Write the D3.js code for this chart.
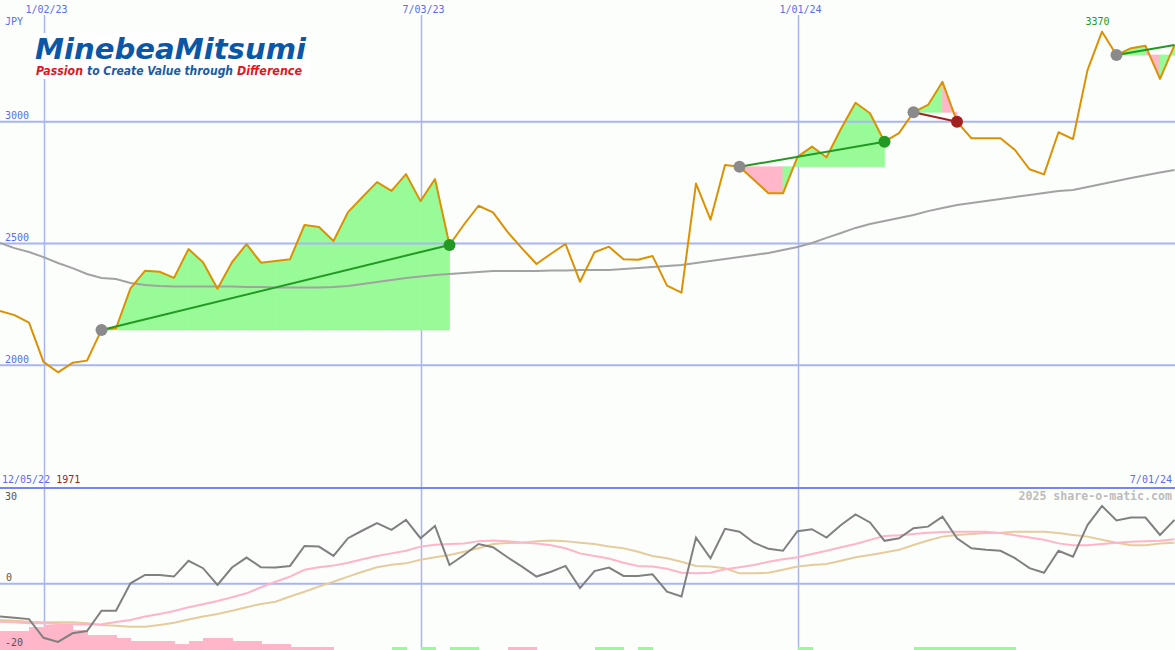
<!DOCTYPE html>
<html><head><meta charset="utf-8">
<script src="https://cdn.jsdelivr.net/npm/d3@7"></script>
<style>html,body{margin:0;padding:0;background:#fcfefc;} svg{display:block;}</style>
</head><body><svg id="c" width="1175" height="650"></svg>
<script>
// ---------- data ----------
const startDate = "2022-12-12";   // first weekly point
const endDate = "2024-07-01";
const price = [2223,2206,2175,2014,1971,2010,2019,2145,2152,2316,
  2388,2384,2359,2477,2423,2314,2423,2497,2421,2428,
  2435,2576,2568,2510,2629,2691,2752,2716,2785,2674,
  2765,2494,2578,2655,2628,2548,2480,2416,2458,2498,
  2343,2464,2487,2435,2433,2449,2327,2298,2746,2598,
  2822,2815,2761,2706,2706,2856,2898,2854,2971,3078,
  3035,2918,2953,3039,3069,3164,3000,2932,2932,2932,
  2884,2805,2784,2957,2929,3212,3370,3274,3302,3312,
  3176,3315];
const movingAvg = [2502,2481,2465,2444,2420,2399,2375,2358,2354,2338,
  2330,2325,2323,2323,2323,2323,2323,2321,2321,2319,
  2319,2319,2319,2321,2325,2334,2342,2350,2358,2364,
  2371,2375,2379,2383,2387,2387,2387,2387,2389,2389,
  2391,2391,2391,2395,2399,2403,2408,2412,2420,2428,
  2436,2445,2453,2461,2473,2486,2502,2523,2543,2564,
  2580,2592,2605,2617,2633,2646,2658,2666,2675,2683,
  2691,2699,2707,2716,2720,2732,2744,2757,2769,2780,
  2792,2802];
const oscGray = [-10.2,-10.6,-11.0,-16.8,-18.1,-15.4,-14.7,-8.4,-8.4,0.1,
  2.7,2.7,2.2,7.1,4.8,-0.4,5.0,8.1,5.1,5.0,
  5.5,11.7,11.5,8.6,14.1,16.5,18.8,16.7,19.8,14.1,
  17.9,5.8,8.9,12.3,11.3,8.2,5.3,2.2,3.7,5.5,
  -1.4,3.9,5.0,2.4,2.4,2.9,-2.5,-4.0,14.3,7.9,
  17.0,16.1,12.7,10.8,10.2,16.3,16.9,14.3,18.2,21.5,
  19.0,13.3,14.1,17.2,17.7,20.8,14.1,11.0,10.5,10.2,
  7.9,4.8,3.4,10.2,8.4,18.2,24.1,19.6,20.5,20.5,
  15.1,19.8];
const oscPink = [-11.8,-12.0,-12.3,-12.3,-12.5,-12.6,-12.7,-12.6,-11.9,-11.3,
  -10.2,-9.4,-8.5,-7.3,-6.4,-5.4,-4.2,-3.0,-1.1,0.6,
  2.2,4.3,5.1,5.6,6.5,7.6,8.6,9.4,10.2,11.5,
  12.1,12.3,12.5,13.2,13.4,13.2,12.8,12.5,11.9,11.0,
  9.4,8.6,7.8,6.5,5.5,5.3,4.6,3.4,3.2,3.4,
  4.5,5.1,5.8,6.8,7.6,8.2,9.2,10.2,11.3,12.3,
  13.6,14.8,15.0,15.4,15.8,16.0,16.1,16.1,16.1,15.7,
  15.0,14.3,13.6,12.5,11.9,11.9,12.3,12.7,13.0,13.2,
  13.3,13.8];
const oscTan = [-11.3,-11.5,-11.8,-12.0,-12.0,-12.0,-12.3,-12.8,-13.1,-13.4,
  -13.4,-12.8,-12.1,-11.1,-10.2,-9.4,-8.4,-7.3,-6.3,-5.6,
  -4.0,-2.5,-0.9,0.6,2.2,3.7,5.1,5.9,6.3,7.4,
  8.2,8.9,9.9,11.0,12.3,12.6,12.7,13.2,13.4,13.2,
  12.7,12.3,11.5,11.0,9.9,8.6,7.9,6.8,5.5,5.3,
  4.8,3.2,3.2,3.4,4.3,5.3,5.8,6.1,7.1,8.2,
  8.9,9.7,10.5,12.0,13.4,14.6,15.1,15.4,15.7,15.8,
  16.1,16.1,16.1,15.7,15.1,14.6,13.6,12.7,11.9,11.9,
  12.5,12.7];
const signalBars = [-6.0,-6.0,-7.0,-7.9,-7.9,-6.2,-4.7,-4.7,-3.6,-2.8,
  -2.8,-2.8,-1.9,-2.8,-3.7,-3.7,-2.8,-2.8,-1.9,-1.9,
  -1.0,-1.0,-1.0,0,0,0,0,1.0,0,1.0,
  0,1.0,1.0,0,0,-1.0,-1.0,0,0,0,
  0,1.0,1.0,0,1.0,0,0,0,0,0,
  0,0,0,0,0,1.0,0,0,0,0,
  0,0,0,1.0,1.0,1.0,1.0,1.0,1.0,1.0,
  0,0,0,0,0,0,0,0,0,0,
  0];
const trendStart = [7, 51, 63, 77];
const trendEnd = [31, 61, 66, 81];
const trendOpen = [false, false, false, true];
const priceTicks = [3000, 2500, 2000];
const oscTicks = [30, 0, -20];
const dateTicks = ["2023-01-02", "2023-07-03", "2024-01-01"];
const dateTickLabels = ["1/02/23", "7/03/23", "1/01/24"];
const unitLabel = "JPY";
const rangeStartLabel = "12/05/22";
const rangeEndLabel = "7/01/24";
const lowLabel = "1971";
const highLabel = "3370";
const creditLabel = "2025 share-o-matic.com";
const logoWords = ["Passion", "to Create Value through", "Difference"];

// ---------- setup ----------
const W = 1175, H = 650;
const svg = d3.select("#c");
const parse = d3.utcParse("%Y-%m-%d");
const dates = price.map((d, i) => d3.utcDay.offset(parse(startDate), 7 * i));
const x = d3.scaleUtc().domain([parse(startDate), parse(endDate)]).range([0, 1174.5]);
const y = d3.scaleLinear().domain([1500, 3500]).range([487, 0]);
const y2 = d3.scaleLinear().domain([-20, 30]).range([648.1, 487]);
const barH = d3.scaleLinear().domain([0, 10]).range([0, 32.2]);

const GRID = "#a8b4f4", BLUE = "#5a6cf2";
const GREENF = "#98fb98", PINKF = "#ffb6c8";
const MONO = "DejaVu Sans Mono, monospace";

svg.append("rect").attr("width", W).attr("height", H).attr("fill", "#fcfefc");

// vertical grid
svg.append("g").selectAll("line").data(dateTicks).join("line")
  .attr("x1", d => Math.round(x(parse(d))) + 0.5).attr("x2", d => Math.round(x(parse(d))) + 0.5)
  .attr("y1", 15).attr("y2", H).attr("stroke", GRID).attr("stroke-width", 1.5);

// logo
const logo = svg.append("g");
logo.append("rect").attr("x", 32).attr("y", 33).attr("width", 278).attr("height", 46).attr("fill", "#ffffff");
logo.append("text").attr("x", 35).attr("y", 58.5)
  .attr("font-family", "DejaVu Sans, sans-serif").attr("font-weight", "bold").attr("font-style", "italic")
  .attr("font-size", 27.5).attr("fill", "#0a57a7").attr("textLength", 271).attr("lengthAdjust", "spacingAndGlyphs")
  .text("MinebeaMitsumi");
const tagX = [36, 87, 237], tagLen = [47, 146, 65], tagCol = ["#e3141e", "#1a5aa6", "#e3141e"];
logoWords.forEach((w, i) => logo.append("text").attr("x", tagX[i]).attr("y", 74.5)
  .attr("font-family", "DejaVu Sans, sans-serif").attr("font-weight", "bold").attr("font-style", "italic")
  .attr("font-size", 11.5).attr("fill", tagCol[i]).attr("textLength", tagLen[i]).attr("lengthAdjust", "spacingAndGlyphs")
  .text(w));

// trend fills
const fills = svg.append("g");
trendStart.forEach((s, t) => {
  const e = trendEnd[t];
  const base = y(price[s]);
  for (let k = s; k < e; k++) {
    const pts = [[x(dates[k]), base], [x(dates[k]), y(price[k])], [x(dates[k + 1]), y(price[k + 1])], [x(dates[k + 1]), base]];
    const c = price[k + 1] >= price[s] ? GREENF : PINKF;
    fills.append("path").attr("d", "M" + pts.join("L") + "Z")
      .attr("fill", c).attr("stroke", c).attr("stroke-width", 0.7);
  }
});

// horizontal grid main
svg.append("g").selectAll("line").data(priceTicks).join("line")
  .attr("x1", 0).attr("x2", W).attr("y1", d => y(d)).attr("y2", d => y(d))
  .attr("stroke", GRID).attr("stroke-width", 2);

// moving average & price
const line = d3.line().x((d, i) => x(dates[i])).y(d => y(d));
svg.append("path").attr("d", line(movingAvg)).attr("fill", "none").attr("stroke", "#a2a2a2").attr("stroke-width", 2);
svg.append("path").attr("d", line(price)).attr("fill", "none").attr("stroke", "#dd9100").attr("stroke-width", 2).attr("stroke-linejoin", "round");

// trend lines and markers
trendStart.forEach((s, t) => {
  const e = trendEnd[t];
  const up = price[e] >= price[s];
  const col = up ? "#229922" : "#a32020";
  svg.append("line").attr("x1", x(dates[s])).attr("y1", y(price[s])).attr("x2", x(dates[e])).attr("y2", y(price[e]))
    .attr("stroke", col).attr("stroke-width", 2);
  svg.append("circle").attr("cx", x(dates[s])).attr("cy", y(price[s])).attr("r", 6).attr("fill", "#8a8a8a");
  if (!trendOpen[t]) svg.append("circle").attr("cx", x(dates[e])).attr("cy", y(price[e])).attr("r", 6).attr("fill", col);
});

// lower panel
svg.append("g").attr("shape-rendering", "crispEdges").selectAll("rect")
  .data(signalBars.map((v, i) => ({v, i})).filter(d => d.v !== 0)).join("rect")
  .attr("x", d => x(dates[d.i])).attr("width", d => x(dates[d.i + 1]) - x(dates[d.i]) + 0.5)
  .attr("y", d => H - barH(Math.abs(d.v))).attr("height", d => barH(Math.abs(d.v)))
  .attr("fill", d => d.v < 0 ? PINKF : GREENF);
svg.append("line").attr("x1", 0).attr("x2", W).attr("y1", y2(0)).attr("y2", y2(0)).attr("stroke", GRID).attr("stroke-width", 2);
svg.append("line").attr("x1", 0).attr("x2", W).attr("y1", 488).attr("y2", 488).attr("stroke", "#7686ee").attr("stroke-width", 2);
const line2 = d3.line().x((d, i) => x(dates[i])).y(d => y2(d));
svg.append("path").attr("d", line2(oscTan)).attr("fill", "none").attr("stroke", "#e6cc9c").attr("stroke-width", 2);
svg.append("path").attr("d", line2(oscPink)).attr("fill", "none").attr("stroke", "#ffb4c8").attr("stroke-width", 2);
svg.append("path").attr("d", line2(oscGray)).attr("fill", "none").attr("stroke", "#808080").attr("stroke-width", 2);

// texts
const txt = (xx, yy, s, col, opts = {}) => svg.append("text").attr("x", xx).attr("y", yy)
  .attr("font-family", MONO).attr("font-size", opts.size || 10).attr("fill", col)
  .attr("text-anchor", opts.anchor || "start").attr("font-weight", opts.weight || "normal").text(s);
dateTicks.forEach((d, i) => txt(x(parse(d)) + 3, 12.5, dateTickLabels[i], BLUE, {anchor: "middle"}));
txt(5, 25, unitLabel, BLUE);
priceTicks.forEach(t => txt(5, y(t) - 2.5, String(t), BLUE));
const rl = txt(2, 482.5, rangeStartLabel + " ", BLUE);
rl.append("tspan").attr("fill", "#a52020").text(lowLabel);
txt(1172, 482.5, rangeEndLabel, BLUE, {anchor: "end"});
txt(1172, 500, creditLabel, "#bcbcbc", {anchor: "end", size: 11.6, weight: "bold"});
txt(5, 499.5, String(oscTicks[0]), "#555555");
txt(6, y2(oscTicks[1]) - 2.3, String(oscTicks[1]), "#555555");
txt(5, 645.5, String(oscTicks[2]), "#555555");
const hi = d3.maxIndex(price);
txt(x(dates[hi]) - 4.5, 25, highLabel, "#229922", {anchor: "middle"});
</script></body></html>
